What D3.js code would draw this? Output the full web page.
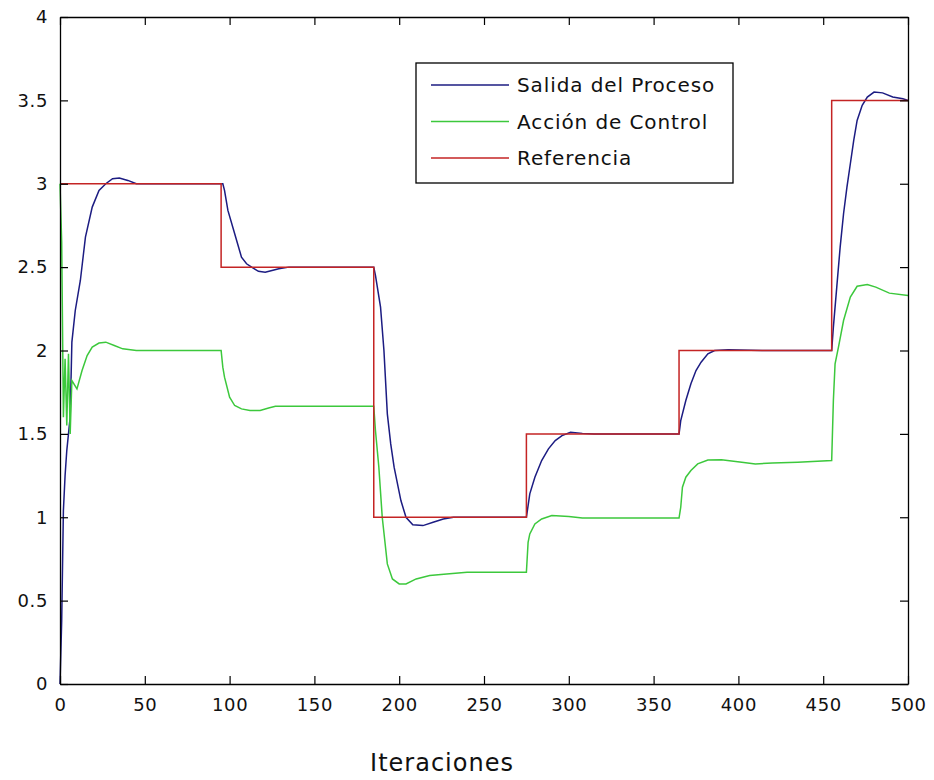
<!DOCTYPE html>
<html>
<head>
<meta charset="utf-8">
<script src="https://cdn.jsdelivr.net/npm/d3@7"></script>
<style>
	body { margin: 0; background: #fff; }
	text { font-family: "DejaVu Sans", sans-serif; fill: #111; }
</style>
</head>
<body>
<div id="chart"></div>
<script>
// series: [iteration, value]
const salida = [
	[0, 0], [1, 0.38], [2, 1.04], [3, 1.25], [4, 1.4], [5, 1.5], [6, 1.6], [7, 2.05],
	[9, 2.24], [12, 2.42], [15, 2.68], [19, 2.86], [23, 2.96], [27, 3.0], [31, 3.03],
	[35, 3.035], [40, 3.02], [45, 3.0], [95, 3.0],
	[96, 3.0], [97, 2.96], [99, 2.84], [103, 2.7], [107, 2.56], [110, 2.52], [113, 2.5],
	[117, 2.475], [121, 2.47], [125, 2.48], [129, 2.49], [135, 2.5], [185, 2.5],
	[186, 2.45], [189, 2.26], [191, 2.0], [193, 1.62], [195, 1.44], [197, 1.3], [201, 1.1],
	[204, 1.0], [208, 0.955], [214, 0.95], [220, 0.97], [226, 0.99], [232, 1.0], [275, 1.0],
	[277, 1.14], [280, 1.24], [284, 1.34], [288, 1.41], [292, 1.46], [296, 1.49], [301, 1.51],
	[308, 1.503], [315, 1.5], [365, 1.5],
	[366, 1.58], [369, 1.7], [372, 1.8], [375, 1.88], [378, 1.93], [382, 1.98], [386, 2.0],
	[394, 2.005], [414, 2.0], [455, 2.0],
	[456, 2.14], [458, 2.38], [460, 2.62], [462, 2.82], [464, 2.98], [466, 3.12], [468, 3.26],
	[470, 3.38], [473, 3.47], [476, 3.52], [480, 3.55], [485, 3.545], [491, 3.52], [497, 3.51],
	[500, 3.5],
];

const accion = [
	[0, 3.0], [1, 2.65], [2, 1.6], [3, 1.95], [4, 1.55], [5, 1.98], [6, 1.5], [7, 1.82],
	[10, 1.77], [13, 1.88], [16, 1.97], [19, 2.02], [23, 2.045], [27, 2.05], [32, 2.03],
	[37, 2.01], [45, 2.0], [95, 2.0],
	[96, 1.9], [97, 1.84], [100, 1.72], [103, 1.67], [107, 1.65], [112, 1.64], [118, 1.64],
	[123, 1.655], [127, 1.665], [185, 1.665],
	[186, 1.52], [188, 1.3], [190, 1.0], [193, 0.72], [196, 0.63], [200, 0.6], [204, 0.6],
	[210, 0.63], [218, 0.65], [228, 0.66], [240, 0.67], [275, 0.67],
	[276, 0.85], [277, 0.9], [280, 0.96], [284, 0.99], [290, 1.01], [300, 1.005], [308, 0.995],
	[365, 0.995],
	[366, 1.06], [367, 1.18], [369, 1.24], [372, 1.28], [376, 1.32], [382, 1.343], [390, 1.345],
	[402, 1.33], [410, 1.32], [420, 1.325], [435, 1.33], [455, 1.34],
	[456, 1.7], [457, 1.92], [459, 2.02], [462, 2.18], [466, 2.32], [470, 2.385], [476, 2.396],
	[481, 2.38], [489, 2.344], [500, 2.33],
];

// reference is a step signal
const refIter = [0, 95, 185, 275, 365, 455, 500];
const refLevel = [3, 2.5, 1, 1.5, 2, 3.5, 3.5];

const xTicks = [0, 50, 100, 150, 200, 250, 300, 350, 400, 450, 500];
const yTicks = [0, 0.5, 1, 1.5, 2, 2.5, 3, 3.5, 4];
const legendNames = ["Salida del Proceso", "Acción de Control", "Referencia"];
const colors = ["#1c1c82", "#3cc83c", "#c42424"];

const width = 934;
const height = 780;
const plot = { left: 60, right: 908, top: 17, bottom: 684 };

const svg = d3
	.select("#chart")
	.append("svg")
	.attr("width", width)
	.attr("height", height);

svg.append("rect").attr("width", width).attr("height", height).attr("fill", "#fff");

const x = d3.scaleLinear().domain([0, 500]).range([plot.left, plot.right]);
const y = d3.scaleLinear().domain([0, 4]).range([plot.bottom, plot.top]);

const line = d3
	.line()
	.x((d) => x(d[0]))
	.y((d) => y(d[1]));

const refPoints = refIter.map((t, i) => [t, refLevel[i]]);
const stepLine = d3
	.line()
	.x((d) => x(d[0]))
	.y((d) => y(d[1]))
	.curve(d3.curveStepAfter);

// plot order: output, control, reference on top
svg.append("path").attr("d", line(salida)).attr("fill", "none")
	.attr("stroke", colors[0]).attr("stroke-width", 1.5);
svg.append("path").attr("d", line(accion)).attr("fill", "none")
	.attr("stroke", colors[1]).attr("stroke-width", 1.5);
svg.append("path").attr("d", stepLine(refPoints)).attr("fill", "none")
	.attr("stroke", colors[2]).attr("stroke-width", 1.5);

// axes, matlab style ticks pointing inward on all sides
const tickLen = 8;
const axisStyle = (g) => {
	g.select(".domain").attr("stroke", "#000").attr("stroke-width", 1.3);
	g.selectAll(".tick line").attr("stroke", "#000").attr("stroke-width", 1.2);
	g.selectAll(".tick text")
		.attr("font-family", "DejaVu Sans, sans-serif")
		.attr("font-size", 18)
		.attr("letter-spacing", 0.6)
		.attr("fill", "#111");
};

svg.append("g")
	.attr("transform", `translate(0, ${plot.bottom})`)
	.call(d3.axisBottom(x).tickValues(xTicks).tickSize(-tickLen).tickSizeOuter(0).tickPadding(14)
		.tickFormat(d3.format("d")))
	.call(axisStyle);

svg.append("g")
	.attr("transform", `translate(0, ${plot.top})`)
	.call(d3.axisTop(x).tickValues(xTicks).tickSize(-tickLen).tickSizeOuter(0).tickFormat(""))
	.call(axisStyle);

svg.append("g")
	.attr("transform", `translate(${plot.left}, 0)`)
	.call(d3.axisLeft(y).tickValues(yTicks).tickSize(-tickLen).tickSizeOuter(0).tickPadding(12)
		.tickFormat((d) => String(d)))
	.call(axisStyle);

svg.append("g")
	.attr("transform", `translate(${plot.right}, 0)`)
	.call(d3.axisRight(y).tickValues(yTicks).tickSize(-tickLen).tickSizeOuter(0).tickFormat(""))
	.call(axisStyle);

// x label
svg.append("text")
	.attr("x", 442)
	.attr("y", 771)
	.attr("text-anchor", "middle")
	.attr("font-size", 24)
	.attr("letter-spacing", 1)
	.text("Iteraciones");

// legend
const legend = svg.append("g");
legend.append("rect")
	.attr("x", 416).attr("y", 63).attr("width", 317).attr("height", 120)
	.attr("fill", "#fff").attr("stroke", "#000").attr("stroke-width", 1.3);

legendNames.forEach((name, i) => {
	const ly = 85 + i * 36.5;
	legend.append("line")
		.attr("x1", 431).attr("x2", 509).attr("y1", ly).attr("y2", ly)
		.attr("stroke", colors[i]).attr("stroke-width", 1.5);
	legend.append("text")
		.attr("x", 517).attr("y", ly + 7)
		.attr("font-size", 20)
		.attr("letter-spacing", 0.9)
		.text(name);
});
</script>
</body>
</html>
